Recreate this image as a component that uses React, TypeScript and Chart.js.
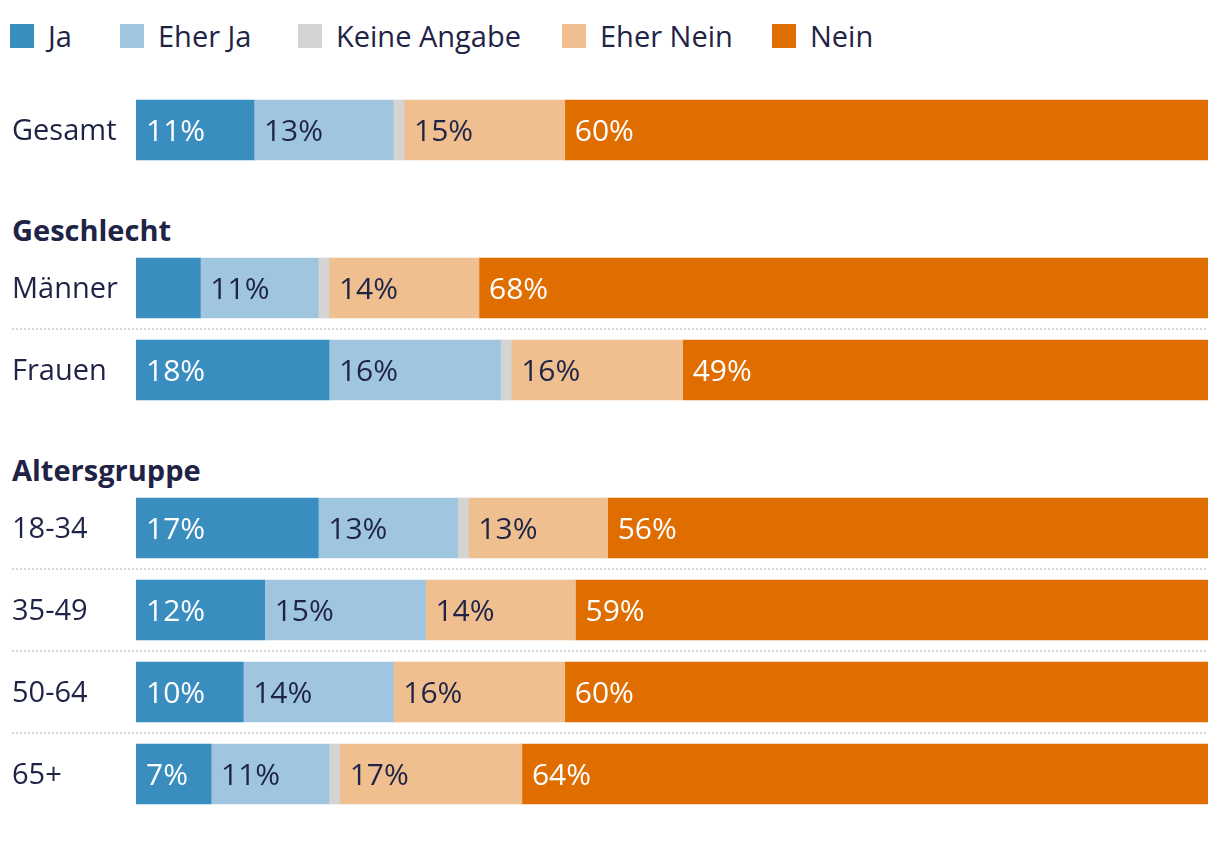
import React, { useEffect, useRef } from 'react';
import { Chart, registerables } from 'chart.js';

Chart.register(...registerables);

// ---- data ----
const seriesNames = ['Ja', 'Eher Ja', 'Keine Angabe', 'Eher Nein', 'Nein'];
const groupTitles = ['', 'Geschlecht', 'Altersgruppe'];
const rowLabels = ['Gesamt', 'Männer', 'Frauen', '18-34', '35-49', '50-64', '65+'];
const rowGroups = [0, 1, 1, 2, 2, 2, 2];
const ja = [11, 6, 18, 17, 12, 10, 7];
const eherJa = [13, 11, 16, 13, 15, 14, 11];
const keineAngabe = [1, 1, 1, 1, 0, 0, 1];
const eherNein = [15, 14, 16, 13, 14, 16, 17];
const nein = [60, 68, 49, 56, 59, 60, 64];

// ---- styles ----
const series = [ja, eherJa, keineAngabe, eherNein, nein];
const colors = ['#3a8dbf', '#9fc6de', '#d4d4d4', '#f0bf8f', '#e06d00'];
const NAVY = '#1f2446';
const labelColors = ['#ffffff', NAVY, NAVY, NAVY, '#ffffff'];
const FONT = "'Open Sans', 'Noto Sans', sans-serif";
const FS = 29;
const LABEL_FS = 30;
const ROW = 82;
const legendLeft = [2, 112, 290, 554, 764];

const labelPlugin = {
  id: 'barLabels',
  afterDatasetsDraw(chart: any) {
    const ctx = chart.ctx;
    chart.data.datasets.forEach((ds: any, di: number) => {
      const meta = chart.getDatasetMeta(di);
      meta.data.forEach((el: any, i: number) => {
        const v = ds.data[i];
        if (v < 7) return;
        const left = Math.min(el.x, el.base);
        ctx.save();
        ctx.font = `${LABEL_FS}px ${FONT}`;
        ctx.fillStyle = labelColors[di];
        ctx.textBaseline = 'middle';
        ctx.textAlign = 'left';
        ctx.fillText(`${v}%`, left + 10, el.y + 2);
        ctx.restore();
      });
    });
  },
};

const rowLabelPlugin = {
  id: 'rowLabels',
  afterDraw(chart: any) {
    const y = chart.scales.y;
    const ctx = chart.ctx;
    ctx.save();
    ctx.font = `${FS}px ${FONT}`;
    ctx.fillStyle = NAVY;
    ctx.textBaseline = 'middle';
    ctx.textAlign = 'left';
    chart.data.labels.forEach((l: string, i: number) => {
      ctx.fillText(l, 4, y.getPixelForTick(i) + 2);
    });
    ctx.restore();
  },
};

const separatorPlugin = {
  id: 'separators',
  afterDraw(chart: any) {
    const y = chart.scales.y;
    const n = chart.data.labels.length;
    const ctx = chart.ctx;
    ctx.save();
    ctx.strokeStyle = '#d6d6d6';
    ctx.lineWidth = 2;
    ctx.setLineDash([2, 2]);
    for (let i = 1; i < n; i++) {
      const py = Math.round((y.getPixelForTick(i - 1) + y.getPixelForTick(i)) / 2);
      ctx.beginPath();
      ctx.moveTo(4, py);
      ctx.lineTo(chart.chartArea.right, py);
      ctx.stroke();
    }
    ctx.restore();
  },
};

function GroupChart({ group }: { group: number }) {
  const ref = useRef<HTMLCanvasElement>(null);
  const idx = rowGroups.map((g, i) => (g === group ? i : -1)).filter((i) => i >= 0);
  const height = idx.length * ROW;
  useEffect(() => {
    if (!ref.current) return;
    const chart = new Chart(ref.current, {
      type: 'bar',
      data: {
        labels: idx.map((i) => rowLabels[i]),
        datasets: series.map((s, si) => ({
          label: seriesNames[si],
          data: idx.map((i) => s[i]),
          backgroundColor: colors[si],
          borderWidth: 0,
          barThickness: 60,
        })),
      },
      options: {
        indexAxis: 'y',
        animation: false,
        responsive: false,
        layout: { padding: { left: 128, right: 0, top: 0, bottom: 0 } },
        plugins: { legend: { display: false }, tooltip: { enabled: false } },
        scales: {
          x: { stacked: true, min: 0, max: 100, display: false },
          y: { stacked: true, display: false },
        },
      } as any,
      plugins: [labelPlugin, rowLabelPlugin, separatorPlugin],
    });
    return () => chart.destroy();
  }, []);
  return <canvas ref={ref} width={1200} height={height} style={{ display: 'block' }} />;
}

export default function App() {
  const tops = [81, 239, 479];
  const headTops = [0, 202, 442];
  return (
    <div style={{ position: 'relative', width: 1200, height: 848, fontFamily: FONT, color: NAVY }}>
      {seriesNames.map((n, i) => (
        <div
          key={n}
          style={{
            position: 'absolute',
            left: legendLeft[i],
            top: 8,
            height: 40,
            display: 'flex',
            alignItems: 'center',
            fontSize: FS,
            whiteSpace: 'nowrap',
          }}
        >
          <span style={{ width: 24, height: 24, background: colors[i], display: 'inline-block', marginRight: 14 }} />
          <span style={{ lineHeight: '40px' }}>{n}</span>
        </div>
      ))}
      {[0, 1, 2].map((g) => (
        <React.Fragment key={g}>
          {groupTitles[g] && (
            <div
              style={{
                position: 'absolute',
                left: 4,
                top: headTops[g],
                lineHeight: '40px',
                fontSize: 29,
                fontWeight: 700,
              }}
            >
              {groupTitles[g]}
            </div>
          )}
          <div style={{ position: 'absolute', left: 0, top: tops[g] }}>
            <GroupChart group={g} />
          </div>
        </React.Fragment>
      ))}
    </div>
  );
}
